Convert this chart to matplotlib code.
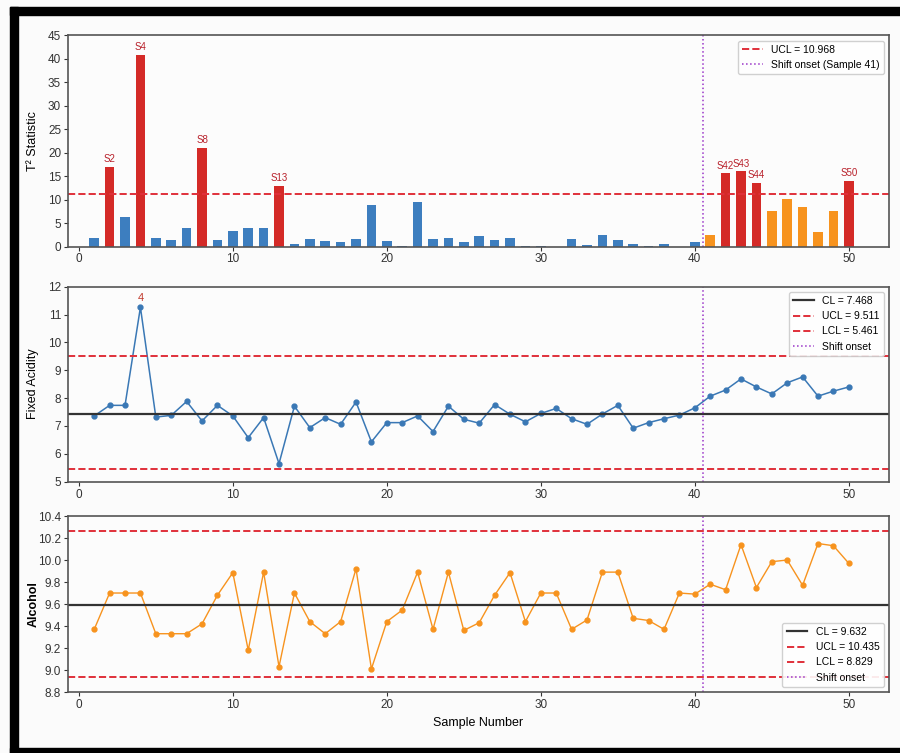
import matplotlib
matplotlib.use("Agg")
import matplotlib.pyplot as plt
from matplotlib import font_manager
from matplotlib.patches import Rectangle
import numpy as np

# ---------------- data ----------------
samples = list(range(1, 51))

t2_values = [1.8, 17.0, 6.3, 40.8, 1.9, 1.3, 4.0, 21.1, 1.4, 3.4,
             3.9, 3.9, 12.9, 0.6, 1.6, 1.2, 0.9, 1.6, 8.9, 1.1,
             0.1, 9.6, 1.6, 1.9, 0.9, 2.3, 1.3, 1.9, 0.1, 0.2,
             0.0, 1.6, 0.3, 2.5, 1.3, 0.5, 0.1, 0.5, 0.0, 0.9,
             2.4, 15.6, 16.0, 13.6, 7.6, 10.1, 8.4, 3.1, 7.6, 14.0]
t2_ucl = 11.1
t2_ucl_label = "UCL = 10.968"

fixed_acidity = [7.36, 7.74, 7.74, 11.26, 7.32, 7.38, 7.88, 7.18, 7.74, 7.36,
                 6.58, 7.30, 5.65, 7.71, 6.94, 7.30, 7.06, 7.86, 6.43, 7.12,
                 7.12, 7.36, 6.80, 7.71, 7.24, 7.10, 7.77, 7.42, 7.15, 7.45,
                 7.63, 7.26, 7.06, 7.43, 7.74, 6.92, 7.12, 7.26, 7.39, 7.65,
                 8.07, 8.29, 8.69, 8.40, 8.15, 8.55, 8.76, 8.07, 8.25, 8.40]
fa_cl, fa_ucl, fa_lcl = 7.43, 9.51, 5.45
fa_labels = ["CL = 7.468", "UCL = 9.511", "LCL = 5.461", "Shift onset"]

alcohol = [9.37, 9.70, 9.70, 9.70, 9.33, 9.33, 9.33, 9.42, 9.68, 9.885,
           9.18, 9.89, 9.03, 9.70, 9.44, 9.33, 9.44, 9.92, 9.01, 9.44,
           9.545, 9.89, 9.37, 9.89, 9.36, 9.43, 9.68, 9.885, 9.44, 9.70,
           9.70, 9.37, 9.455, 9.89, 9.89, 9.47, 9.45, 9.37, 9.70, 9.69,
           9.78, 9.73, 10.14, 9.75, 9.985, 10.0, 9.77, 10.15, 10.13, 9.97]
al_cl, al_ucl, al_lcl = 9.59, 10.26, 8.94
al_labels = ["CL = 9.632", "UCL = 10.435", "LCL = 8.829", "Shift onset"]

shift_x = 40.5
t2_shift_label = "Shift onset (Sample 41)"
fa_flag_index = 4

# ---------------- style ----------------
avail = {f.name for f in font_manager.fontManager.ttflist}
fam = "Liberation Sans" if "Liberation Sans" in avail else "DejaVu Sans"
plt.rcParams['font.family'] = [fam, 'DejaVu Sans']

BLUE = '#3d7ebf'
RED = '#d42a27'
ORANGE = '#f7931e'
UCLRED = '#e0303a'
PURPLE = '#9a35c8'
DARK = '#333333'
LINEBLUE = '#3a78b5'

fig = plt.figure(figsize=(9, 7.53), dpi=100)
fig.patch.set_facecolor('#fbfbfb')

# black frame as in the reference
for (x0, y0, w, h) in [(10, 0, 8, 746), (10, 738, 890, 8), (10, 0, 890, 5)]:
    fig.patches.append(Rectangle((x0 / 900, y0 / 753), w / 900, h / 753,
                                 transform=fig.transFigure, color='black', zorder=-5))

ax1 = fig.add_axes([0.0756, 0.6726, 0.912, 0.2803])
ax2 = fig.add_axes([0.0756, 0.3603, 0.912, 0.259])
ax3 = fig.add_axes([0.0756, 0.0810, 0.912, 0.2337])

for ax in (ax1, ax2, ax3):
    ax.set_facecolor('#fcfcfc')
    for s in ax.spines.values():
        s.set_color('#555555')
        s.set_linewidth(1.2)
    ax.tick_params(labelsize=8.5, colors='#333333', length=3, pad=2)
    ax.set_xlim(-0.7, 52.6)
    ax.set_xticks([0, 10, 20, 30, 40, 50])

# ---- Panel 1: T2 bars ----
colors = []
for s, v in zip(samples, t2_values):
    if v > t2_ucl:
        colors.append(RED)
    elif s > shift_x:
        colors.append(ORANGE)
    else:
        colors.append(BLUE)
ax1.bar(samples, t2_values, width=0.62, color=colors, edgecolor='none')
ax1.axhline(t2_ucl, color=UCLRED, ls='--', lw=1.4, label=t2_ucl_label)
ax1.axvline(shift_x, color=PURPLE, ls=':', lw=1.1, label=t2_shift_label)
for s, v in zip(samples, t2_values):
    if v > t2_ucl:
        ax1.text(s, v + 0.6, f"S{s}", ha='center', va='bottom', color='#b8202a', fontsize=7)
ax1.set_ylim(0, 45)
ax1.set_yticks(range(0, 46, 5))
ax1.set_ylabel("T² Statistic", fontsize=9)
ax1.legend(loc='upper right', fontsize=7.5, framealpha=0.9, edgecolor='#cccccc')

# ---- Panel 2: Fixed acidity ----
ax2.plot(samples, fixed_acidity, color=LINEBLUE, lw=1.1, marker='o', ms=3.5)
ax2.axhline(fa_cl, color=DARK, lw=1.6, label=fa_labels[0])
ax2.axhline(fa_ucl, color=UCLRED, ls='--', lw=1.4, label=fa_labels[1])
ax2.axhline(fa_lcl, color=UCLRED, ls='--', lw=1.4, label=fa_labels[2])
ax2.axvline(shift_x, color=PURPLE, ls=':', lw=1.1, label=fa_labels[3])
ax2.text(samples[fa_flag_index - 1], fixed_acidity[fa_flag_index - 1] + 0.15, str(fa_flag_index),
         ha='center', va='bottom', color='#c0392b', fontsize=8)
ax2.set_ylim(5, 12)
ax2.set_yticks(range(5, 13))
ax2.set_ylabel("Fixed Acidity", fontsize=9)
ax2.legend(loc='upper right', fontsize=7.5, framealpha=0.9, edgecolor='#cccccc')

# ---- Panel 3: Alcohol ----
ax3.plot(samples, alcohol, color=ORANGE, lw=1.0, marker='o', ms=3.5)
ax3.axhline(al_cl, color=DARK, lw=1.6, label=al_labels[0])
ax3.axhline(al_ucl, color=UCLRED, ls='--', lw=1.4, label=al_labels[1])
ax3.axhline(al_lcl, color=UCLRED, ls='--', lw=1.4, label=al_labels[2])
ax3.axvline(shift_x, color=PURPLE, ls=':', lw=1.1, label=al_labels[3])
ax3.set_ylim(8.8, 10.4)
ticks3 = np.round(np.arange(8.8, 10.41, 0.2), 1)
ax3.set_yticks(ticks3)
ax3.set_yticklabels([f"{t:.1f}" for t in ticks3])
ax3.set_ylabel("Alcohol", fontsize=9, fontweight='bold')
ax3.set_xlabel("Sample Number", fontsize=9)
ax3.legend(loc='lower right', fontsize=7.5, framealpha=0.9, edgecolor='#cccccc')

for ax in (ax1, ax2, ax3):
    ax.yaxis.set_label_coords(-0.035, 0.5)

fig.savefig("out.png", dpi=100, facecolor=fig.get_facecolor())
